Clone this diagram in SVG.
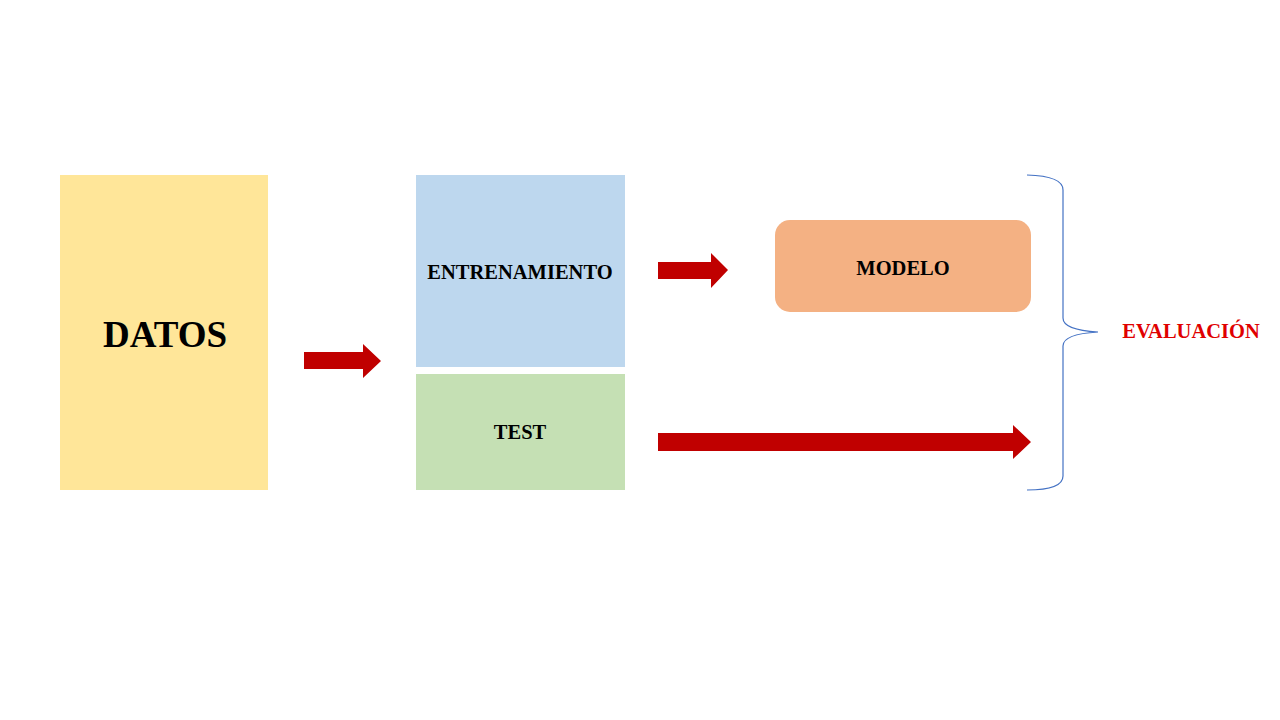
<svg xmlns="http://www.w3.org/2000/svg" width="1280" height="720" viewBox="0 0 1280 720">
<style>
.t{font-family:"Liberation Serif","Times New Roman",serif;font-weight:bold;text-anchor:middle;fill:#000}
.s{font-size:20.5px}
.arrow{fill:#C00000}
</style>
<rect width="1280" height="720" fill="#fff"/>
<g id="datos"><rect x="60" y="175" width="208" height="315" fill="#FFE699"/><text class="t" x="165" y="347" font-size="37">DATOS</text></g>
<g id="entrenamiento"><rect x="416" y="175" width="209" height="192" fill="#BDD7EE"/><text class="t s" x="520" y="279">ENTRENAMIENTO</text></g>
<g id="test"><rect x="416" y="374" width="209" height="116" fill="#C5E0B4"/><text class="t s" x="520" y="439">TEST</text></g>
<g id="modelo"><rect x="775" y="220" width="256" height="92" rx="15" fill="#F4B183"/><text class="t s" x="903" y="275">MODELO</text></g>
<g id="evaluacion"><text class="t s" x="1191" y="338" style="fill:#E00000">EVALUACIÓN</text></g>
<g id="connectors">
<polygon class="arrow" points="304,352 363,352 363,344 381,361 363,378 363,369 304,369"/>
<polygon class="arrow" points="658,262 711,262 711,253 728,270 711,288 711,279 658,279"/>
<polygon class="arrow" points="658,433 1013,433 1013,425 1031,442 1013,459 1013,451 658,451"/>
<path d="M1027,175 Q1063,176 1063,190 L1063,318 Q1063,330 1098,332 Q1063,334 1063,346 L1063,476 Q1063,490 1027,490" fill="none" stroke="#4472C4" stroke-width="1.2"/>
</g>
</svg>
